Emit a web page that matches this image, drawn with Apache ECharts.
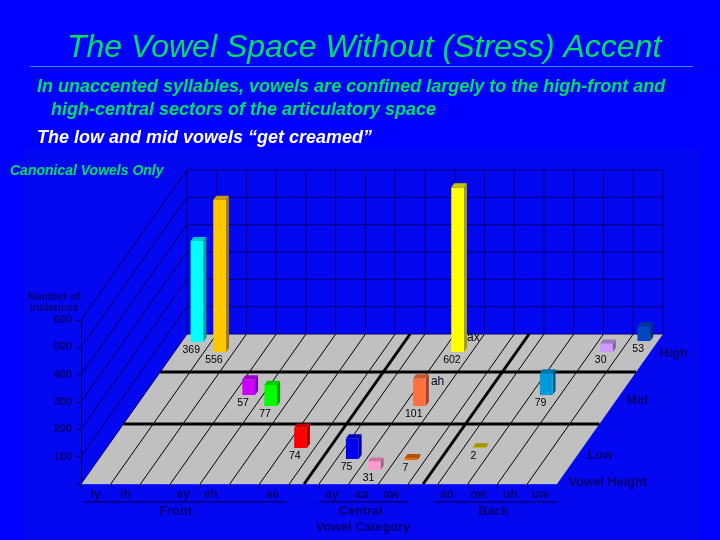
<!DOCTYPE html>
<html><head><meta charset="utf-8"><style>html,body{margin:0;padding:0;background:#0000ff}#c{width:720px;height:540px}</style>
<script src="https://cdn.jsdelivr.net/npm/echarts@6/dist/echarts.min.js"></script></head>
<body><div id="c"></div>
<script>
// ---- data ----
const vowelCategories = ['iy','ih','','ey','eh','','ae','','ay','aa','aw','','ao','ow','uh','uw'];
const countTicks = [100,200,300,400,500,600];
const barCategory = [15,0,14,1,9,3,13,4,9,6,12,8,10,9];
const barValue    = [53,369,30,556,602,57,79,77,101,74,2,75,7,31];
const barHeightPos= [0.953,0.947,0.88,0.88,0.88,0.593,0.593,0.52,0.52,0.24,0.24,0.167,0.16,0.093];
const barColor = ['#0048c0','#00ffff','#cc99ff','#ffc800','#ffff00','#cc00ff','#0099e0','#00ff00','#ff7040','#ff0000','#d0c000','#0000f0','#e86800','#ff99cc'];
const rowBoundaries = [0.4,0.747];
const groupBoundaries = [7.5,11.5];
const groupNames = ['Front','Central','Back'];
const groupStart = [0.1,8,11.87];
const groupEnd = [6.9,11,16];
const groupLabelAt = [3.18,9.4,13.86];
const heightNames = ['High','Mid','Low','Vowel Height'];
const heightPos = [0.873,0.56,0.193,0.013];
const calloutNames = ['ax','ah'];
const calloutCat = [9.51,9.34];
const calloutPos = [0.973,0.68];

// ---- look ----
const DX = 106, DY = 150;              // oblique projection of the depth axis
const BAR_L = 0.31, BAR_W = 0.43, BAR_D = 0.028;
const NAVY = '#000070';
const FF = '"Liberation Sans"';
const labelShift = [0,0,0,2,4,0,2,0,2,2,2,0,6,4,2,2];

function P(api,x,z,d){
  const b = api.coord([0,z]), w = api.size([1,0])[0];
  return [b[0]-w/2+x*w+d*DX, b[1]-d*DY];
}
function shade(hex,f){
  const n=parseInt(hex.slice(1),16);
  const c=[(n>>16)&255,(n>>8)&255,n&255].map(v=>Math.round(v*f));
  return 'rgb('+c.join(',')+')';
}
function seg(a,b,color,lw){
  return {type:'line',shape:{x1:a[0],y1:a[1],x2:b[0],y2:b[1]},style:{stroke:color,lineWidth:lw,fill:null},silent:true};
}
function poly(pts,fill){return {type:'polygon',shape:{points:pts},style:{fill:fill},silent:true};}
function txt(x,y,s,o){
  return {type:'text',x:x,y:y,style:Object.assign({text:s,font:'bold 12.7px '+FF,fill:NAVY,align:'left',verticalAlign:'middle'},o||{}),silent:true};
}

function renderScene(params,api){
  const n = vowelCategories.length, ch=[];
  const top = countTicks[countTicks.length-1];
  ch.push(poly([P(api,0,0,0),P(api,n,0,0),P(api,n,0,1),P(api,0,0,1)],'#c0c0c0'));
  for(let i=0;i<=n;i++) ch.push(seg(P(api,i,0,1),P(api,i,top,1),'#000070',1));
  countTicks.forEach(t=>{
    ch.push(seg(P(api,0,t,1),P(api,n,t,1),'#000070',1));
    ch.push(seg(P(api,0,t,0),P(api,0,t,1),'#000060',1));
  });
  ch.push(seg(P(api,0,0,0),P(api,0,0,1),'#000060',1));
  for(let i=1;i<n;i++) ch.push(seg(P(api,i,0,0),P(api,i,0,1),'#000000',1));
  ch.push(seg(P(api,0,0,1),P(api,n,0,1),'#000070',1));
  rowBoundaries.forEach(d=>ch.push(seg(P(api,0,0,d),P(api,n,0,d),'#000000',3)));
  groupBoundaries.forEach(x=>ch.push(seg(P(api,x,0,0),P(api,x,0,1),'#000000',3)));
  heightNames.forEach((s,i)=>{const p=P(api,n,0,heightPos[i]);ch.push(txt(p[0]+10,p[1],s));});
  groupNames.forEach((s,i)=>{
    const y=api.coord([0,0])[1];
    const a=P(api,groupStart[i],0,0),b=P(api,groupEnd[i],0,0);
    ch.push(seg([a[0],y+18],[b[0],y+18],NAVY,1.5));
    ch.push(txt(P(api,groupLabelAt[i],0,0)[0],y+27,s,{align:'center'}));
  });
  return {type:'group',children:ch};
}
function renderBar(params,api){
  const x=api.value(0), z=api.value(1), d=api.value(2), c=barColor[params.dataIndex];
  const l=x+BAR_L, r=l+BAR_W, e=d+BAR_D;
  const ch=[
    poly([P(api,r,0,d),P(api,r,0,e),P(api,r,z,e),P(api,r,z,d)],shade(c,0.62)),
    poly([P(api,l,z,d),P(api,r,z,d),P(api,r,z,e),P(api,l,z,e)],shade(c,0.78)),
    poly([P(api,l,0,d),P(api,r,0,d),P(api,r,z,d),P(api,l,z,d)],c)
  ];
  const p=P(api,x+0.5,0,d);
  ch.push(txt(p[0]-5,p[1]+8,String(z),{align:'center',font:'10.5px '+FF,fill:'#000000'}));
  return {type:'group',children:ch};
}
function renderCallout(params,api){
  const i=params.dataIndex, p=P(api,calloutCat[i],0,calloutPos[i]);
  return txt(p[0],p[1],calloutNames[i],{fill:'#000020',font:'12px '+FF});
}

const rich={};
labelShift.forEach((s,i)=>{rich['c'+i]={padding:[0,2*s,0,0],fontFamily:'Liberation Sans',fontSize:12,fontWeight:'bold',color:NAVY};});

function t(text,left,top,size,color,weight){
  return {type:'text',left:left,top:top,z:5,style:{text:text,font:'italic '+(weight||'normal')+' '+size+'px '+FF,fill:color}};
}
const option={
  animation:false,
  backgroundColor:'#0000ff',
  graphic:[
    {type:'rect',left:24,top:150,z:-1,shape:{width:676,height:390},style:{fill:'#0408f0'}},
    {type:'rect',left:30,top:66,z:5,shape:{width:663,height:1},style:{fill:'#3090e0'}},
    t('The Vowel Space Without (Stress) Accent',67,32,32,'#00e060'),
    t('In unaccented syllables, vowels are confined largely to the high-front and',37,78,18,'#00e060','bold'),
    t('high-central sectors of the articulatory space',51,101,18,'#00e060','bold'),
    t('The low and mid vowels \u201cget creamed\u201d',37,129,18,'#ffffff','bold'),
    t('Canonical Vowels Only',10,164,14,'#00e060','bold')
  ],
  grid:{left:81,right:163,top:320,bottom:56,containLabel:false},
  xAxis:{type:'category',data:vowelCategories,boundaryGap:true,
    axisLine:{show:true,lineStyle:{color:'#2038f0',width:1.5}},
    axisTick:{show:true,interval:0,length:4,alignWithLabel:false,lineStyle:{color:'#000070'}},
    splitLine:{show:false},
    axisLabel:{interval:0,margin:5,formatter:(v,i)=>v?'{c'+i+'|'+v+'}':'',rich:rich},
    name:'Vowel Category',nameLocation:'middle',nameGap:37,
    nameTextStyle:{fontFamily:'Liberation Sans',fontSize:12.7,fontWeight:'bold',color:NAVY,padding:[0,0,0,88]}},
  yAxis:{type:'value',min:0,max:600,interval:100,
    axisLine:{show:true,lineStyle:{color:'#000060'}},
    axisTick:{show:true,length:5,lineStyle:{color:'#000060'}},
    splitLine:{show:false},
    axisLabel:{margin:9,fontFamily:'Liberation Sans',fontSize:11,fontWeight:'bold',color:NAVY,formatter:v=>v===0?'':String(v)},
    name:'Number of\nInstances',nameLocation:'end',nameGap:6,
    nameTextStyle:{fontFamily:'Liberation Sans',fontSize:10.5,fontWeight:'bold',color:NAVY,lineHeight:11,align:'center',padding:[0,54,0,0]}},
  tooltip:{show:false},
  series:[
    {type:'custom',name:'scene',z:1,renderItem:renderScene,data:[[0,0]],encode:{x:0,y:1},silent:true},
    {type:'custom',name:'Number of Instances',z:2,renderItem:renderBar,encode:{x:0,y:1},
      data:barCategory.map((c,i)=>[c,barValue[i],barHeightPos[i]]),silent:true},
    {type:'custom',name:'callouts',z:3,renderItem:renderCallout,encode:{x:0,y:1},
      data:calloutNames.map((s,i)=>[0,0]),silent:true}
  ]
};
echarts.init(document.getElementById('c'),null,{renderer:'canvas'}).setOption(option);
</script></body></html>
